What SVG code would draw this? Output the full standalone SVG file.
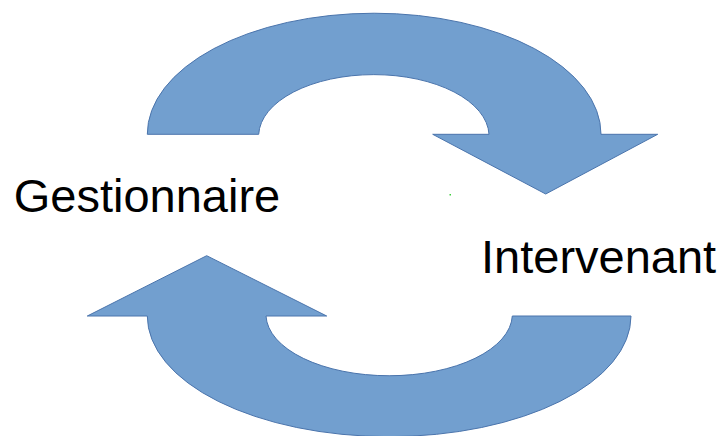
<svg xmlns="http://www.w3.org/2000/svg" width="726" height="436" viewBox="0 0 726 436">
<style>
.arrow{fill:#729fcf;stroke:#4a74ac;stroke-width:1;stroke-linejoin:miter}
.label{font-family:"Liberation Sans",Arial,sans-serif;font-size:47px;fill:#000}
</style>
<rect width="726" height="436" fill="#fff"/>
<g id="connectors">
<path id="arrow-top" class="arrow" d="M147.3,134.3 A226.7,121 0 0 1 601,134.3 L657.7,134.3 L545.7,194 L432.7,134.3 L489,134.3 A115.2,61.5 0 0 0 258.7,134.3 Z"/>
<path id="arrow-bottom" class="arrow" d="M87.3,316 L206.7,255.7 L326.7,316 L266,316 A123.2,61.5 0 0 0 512.3,316 L631,316 A241.8,120.7 0 0 1 147.3,316 Z"/>
</g>
<g id="node-gestionnaire"><text class="label" x="13.7" y="211.5">Gestionnaire</text></g>
<g id="node-intervenant"><text class="label" x="481" y="272.5">Intervenant</text></g>
<rect x="449.5" y="194" width="1.5" height="1.5" fill="#3ccf3c"/>
</svg>
